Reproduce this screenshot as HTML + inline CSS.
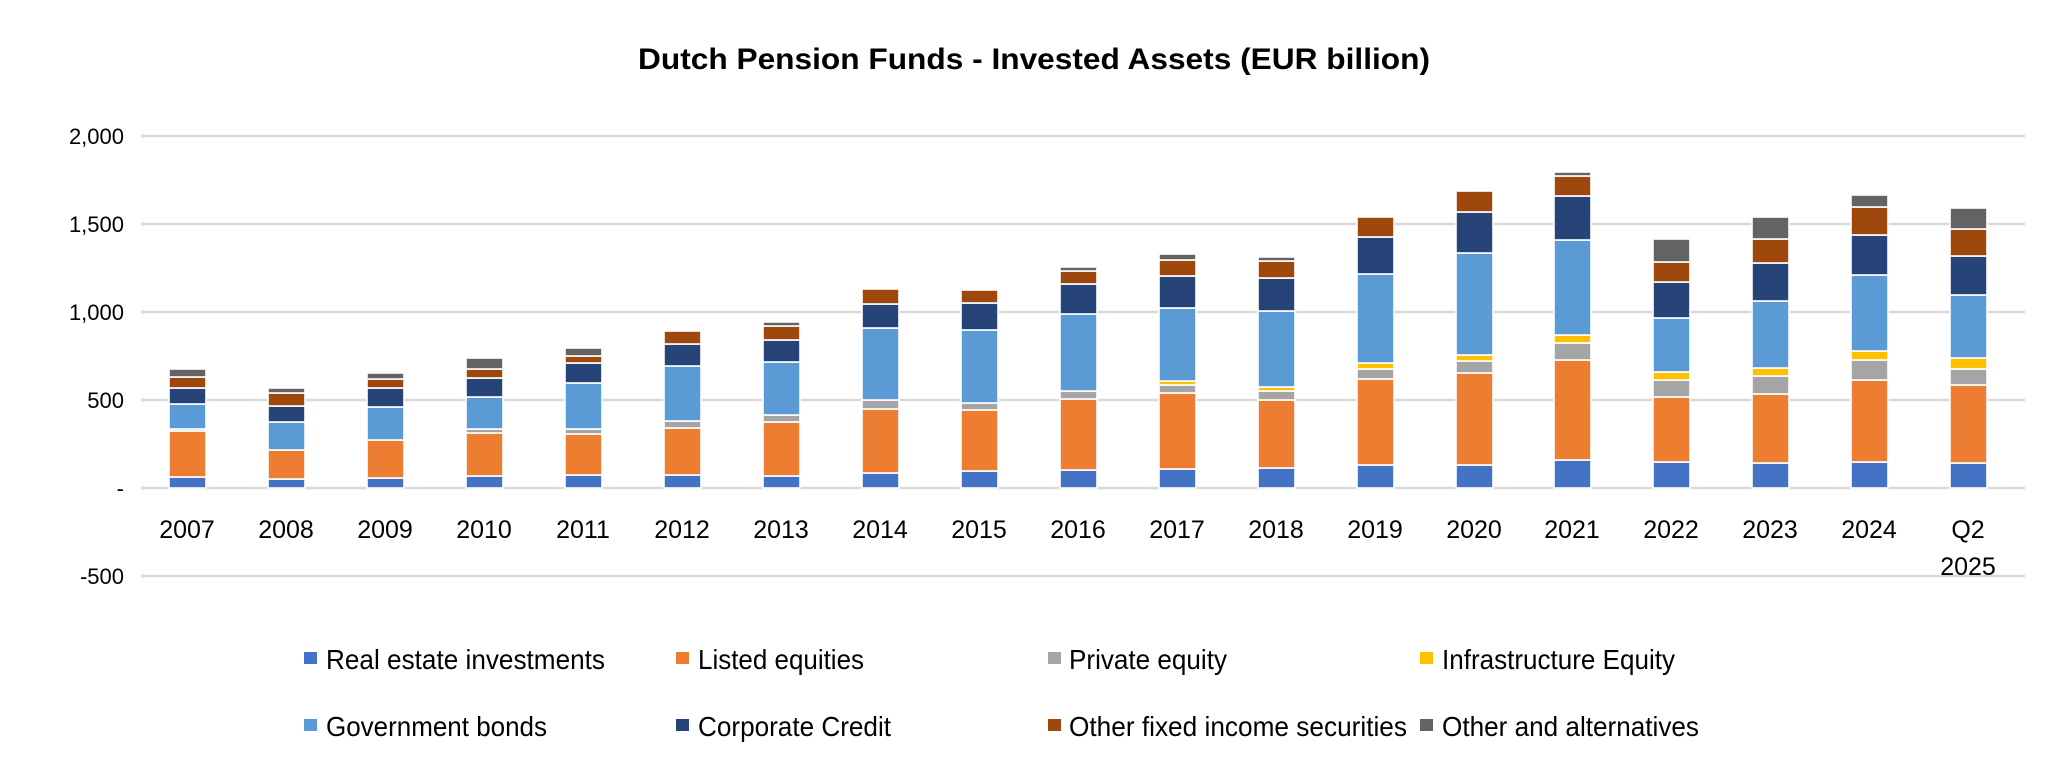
<!DOCTYPE html>
<html><head><meta charset="utf-8"><style>
html,body{margin:0;padding:0;background:#fff;}
svg{display:block;font-family:"Liberation Sans",Arial,sans-serif;}
</style></head><body>
<svg id="c" width="2068" height="775" viewBox="0 0 2068 775" xmlns="http://www.w3.org/2000/svg">
<rect width="2068" height="775" fill="#fff"/>
<text x="1034" y="69" text-anchor="middle" font-size="30" font-weight="bold" fill="#000" textLength="792" lengthAdjust="spacingAndGlyphs">Dutch Pension Funds - Invested Assets (EUR billion)</text>
<g stroke="#d9d9d9" stroke-width="2.5">
<line x1="141" x2="2025" y1="136" y2="136"/>
<line x1="141" x2="2025" y1="224" y2="224"/>
<line x1="141" x2="2025" y1="312" y2="312"/>
<line x1="141" x2="2025" y1="400" y2="400"/>
<line x1="141" x2="2025" y1="488" y2="488"/>
<line x1="141" x2="2025" y1="576" y2="576"/>
</g>
<g font-size="22" fill="#000" text-anchor="end">
<text x="124" y="144">2,000</text>
<text x="124" y="232">1,500</text>
<text x="124" y="320">1,000</text>
<text x="124" y="408">500</text>
<text x="124" y="496">-</text>
<text x="124" y="584">-500</text>
</g>
<g id="bars"></g>
<g font-size="25" fill="#000" text-anchor="middle">
<text x="187" y="538">2007</text><text x="286" y="538">2008</text><text x="385" y="538">2009</text>
<text x="484" y="538">2010</text><text x="583" y="538">2011</text><text x="682" y="538">2012</text>
<text x="781" y="538">2013</text><text x="880" y="538">2014</text><text x="979" y="538">2015</text>
<text x="1078" y="538">2016</text><text x="1177" y="538">2017</text><text x="1276" y="538">2018</text>
<text x="1375" y="538">2019</text><text x="1474" y="538">2020</text><text x="1572" y="538">2021</text>
<text x="1671" y="538">2022</text><text x="1770" y="538">2023</text><text x="1869" y="538">2024</text>
<text x="1968" y="538">Q2</text><text x="1968" y="575">2025</text>
</g>
<g font-size="28" fill="#000">
<rect x="304" y="652" width="13" height="12" fill="#4472C4"/><text x="326" y="669" textLength="279" lengthAdjust="spacingAndGlyphs">Real estate investments</text>
<rect x="676" y="652" width="13" height="12" fill="#ED7D31"/><text x="698" y="669" textLength="166" lengthAdjust="spacingAndGlyphs">Listed equities</text>
<rect x="1048" y="652" width="13" height="12" fill="#A5A5A5"/><text x="1069" y="669" textLength="158" lengthAdjust="spacingAndGlyphs">Private equity</text>
<rect x="1420" y="652" width="13" height="12" fill="#FFC000"/><text x="1442" y="669" textLength="233" lengthAdjust="spacingAndGlyphs">Infrastructure Equity</text>
<rect x="304" y="719" width="13" height="12" fill="#5B9BD5"/><text x="326" y="736" textLength="221" lengthAdjust="spacingAndGlyphs">Government bonds</text>
<rect x="676" y="719" width="13" height="12" fill="#264478"/><text x="698" y="736" textLength="193" lengthAdjust="spacingAndGlyphs">Corporate Credit</text>
<rect x="1048" y="719" width="13" height="12" fill="#9E480E"/><text x="1069" y="736" textLength="338" lengthAdjust="spacingAndGlyphs">Other fixed income securities</text>
<rect x="1420" y="719" width="13" height="12" fill="#636363"/><text x="1442" y="736" textLength="257" lengthAdjust="spacingAndGlyphs">Other and alternatives</text>
</g>
</svg>
<script>
var cols=["#4472C4","#ED7D31","#A5A5A5","#FFC000","#5B9BD5","#264478","#9E480E","#636363"];
var d=[
[169,[477,431,429,429,404,388,377,369]],
[268,[479,450,450,450,422,406,393,388]],
[367,[478,440,440,440,407,388,379,373]],
[466,[476,433,429,429,397,378,369,358]],
[565,[475,434,429,429,383,363,356,348]],
[664,[475,428,421,421,366,344,331,331]],
[763,[476,422,415,415,362,340,326,322]],
[862,[473,409,400,400,328,304,289,289]],
[961,[471,410,403,403,330,303,290,290]],
[1060,[470,399,391,391,314,284,271,267]],
[1159,[469,393,385,381,308,276,260,254]],
[1258,[468,400,391,387,311,278,261,257]],
[1357,[465,379,369,363,274,237,217,217]],
[1456,[465,373,361,355,253,212,191,191]],
[1554,[460,360,343,335,240,196,176,172]],
[1653,[462,397,380,372,318,282,262,239]],
[1752,[463,394,376,368,301,263,239,217]],
[1851,[462,380,360,351,275,235,207,195]],
[1950,[463,385,369,358,295,256,229,208]]
];
var g=document.getElementById("bars"),ns="http://www.w3.org/2000/svg";
d.forEach(function(b){var prev=488;b[1].forEach(function(t,i){var h=prev-t;if(h>0.5){var r=document.createElementNS(ns,"rect");
r.setAttribute("x",b[0]);r.setAttribute("y",t);r.setAttribute("width",37);r.setAttribute("height",h);
r.setAttribute("fill",cols[i]);r.setAttribute("stroke","#fff");r.setAttribute("stroke-width","1.6");g.appendChild(r);}prev=t;});});
</script>
</body></html>
